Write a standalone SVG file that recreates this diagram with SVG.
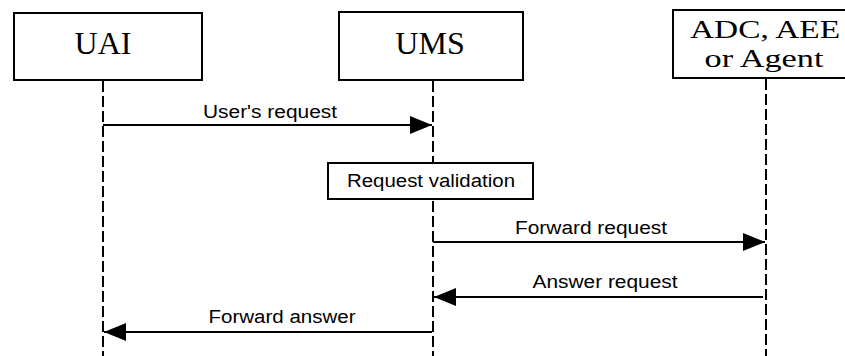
<svg xmlns="http://www.w3.org/2000/svg" width="845" height="356" viewBox="0 0 845 356">
  <style>
    .box { fill: #fff; stroke: #000; stroke-width: 2; }
    .title { font-family: "Liberation Serif", "Times New Roman", serif; font-size: 32px; fill: #000; text-anchor: middle; }
    .title2 { font-family: "Liberation Serif", "Times New Roman", serif; font-size: 26px; fill: #000; text-anchor: middle; }
    .life { stroke: #000; stroke-width: 2; stroke-dasharray: 11 4; fill: none; }
    .msg { stroke: #000; stroke-width: 2; fill: none; }
    .label { font-family: "Liberation Sans", Arial, sans-serif; font-size: 18px; fill: #000; text-anchor: middle; }
  </style>
  <defs>
    <marker id="head" viewBox="0 0 22 18" refX="22" refY="9" markerWidth="22" markerHeight="18" markerUnits="userSpaceOnUse" orient="auto">
      <path d="M0,0 L22,9 L0,18 Z" fill="#000"/>
    </marker>
  </defs>

  <rect width="845" height="356" fill="#fff"/>

  <!-- lifelines -->
  <g id="lifelines">
    <line class="life" x1="103" y1="81" x2="103" y2="356"/>
    <line class="life" x1="433" y1="81" x2="433" y2="356"/>
    <line class="life" x1="766" y1="79" x2="766" y2="356"/>
  </g>

  <!-- participants -->
  <g id="uai">
    <rect class="box" x="14" y="13" width="188" height="67"/>
    <text class="title" x="103" y="54">UAI</text>
  </g>
  <g id="ums">
    <rect class="box" x="339" y="12" width="184" height="68"/>
    <text class="title" x="430" y="54">UMS</text>
  </g>
  <g id="adc">
    <rect class="box" x="673" y="10" width="180" height="68"/>
    <text class="title2" x="765" y="38" textLength="150" lengthAdjust="spacingAndGlyphs">ADC, AEE</text>
    <text class="title2" x="764" y="67" textLength="119" lengthAdjust="spacingAndGlyphs">or Agent</text>
  </g>

  <g id="validation">
    <rect class="box" x="328" y="163" width="205" height="36"/>
    <text class="label" x="431" y="187" textLength="168" lengthAdjust="spacingAndGlyphs">Request validation</text>
  </g>

  <!-- messages -->
  <g id="connectors">
    <line class="msg" x1="103" y1="125" x2="432" y2="125" marker-end="url(#head)"/>
    <line class="msg" x1="433" y1="242" x2="765" y2="242" marker-end="url(#head)"/>
    <line class="msg" x1="763" y1="297" x2="434" y2="297" marker-end="url(#head)"/>
    <line class="msg" x1="432" y1="332" x2="104" y2="332" marker-end="url(#head)"/>
  </g>

  <g id="labels">
    <text class="label" x="270" y="118" textLength="134" lengthAdjust="spacingAndGlyphs">User's request</text>
    <text class="label" x="591" y="234" textLength="152" lengthAdjust="spacingAndGlyphs">Forward request</text>
    <text class="label" x="605" y="288" textLength="145" lengthAdjust="spacingAndGlyphs">Answer request</text>
    <text class="label" x="282" y="323" textLength="147" lengthAdjust="spacingAndGlyphs">Forward answer</text>
  </g>
</svg>
